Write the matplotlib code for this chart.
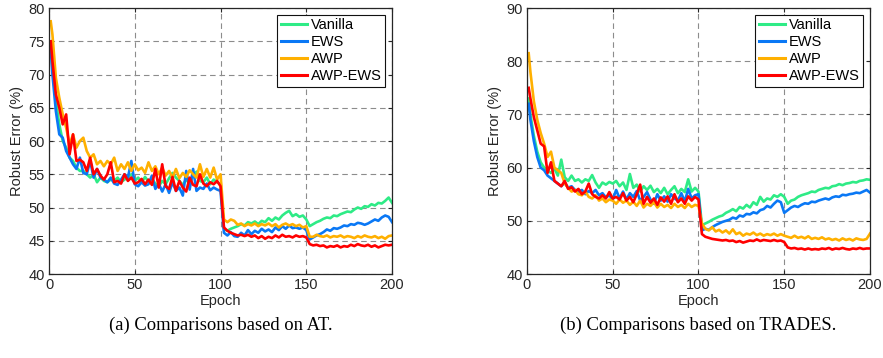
import numpy as np
import matplotlib
matplotlib.use("Agg")
import matplotlib.pyplot as plt

epochs = [1] + list(range(2, 201, 2))

at_vanilla = [75.0, 71, 66, 62.5, 60, 59, 57.5, 57, 56, 55.5, 55.5, 55, 54.5, 55, 53.8, 54.5, 54, 53.8, 54.2, 54, 54.5,
              53.8, 54.2, 54.5, 55, 54, 54.5, 53.8, 54.6, 53.9, 54.3, 53.6, 53.2, 54, 53.5, 54.4, 55.2, 54.5, 54, 53.4, 54.2,
              53.5, 54.8, 55.4, 54, 53.8, 54.5, 53.5, 54.2, 53.8, 53.5,
              46.8, 46.5, 46.8, 47, 47.2, 47.5, 47.3, 47.8, 47.6, 47.9, 47.5, 48, 47.8, 48.4, 48, 48.5, 48.2, 48.8, 49.2, 49.5,
              48.7, 49, 48.6, 48.8, 48.2,
              47.2, 47.5, 47.8, 48, 48.3, 48.5, 48.4, 48.8, 48.7, 49, 49.2, 49.4, 49.3, 49.7, 50, 49.8, 50.2, 50.1, 50.5, 50.3,
              50.7, 50.6, 51, 51.5, 50.7]
at_ews = [74, 70, 64.5, 61, 60.5, 58.5, 57.5, 56.5, 55.8, 57.5, 55.2, 55, 57, 54.5, 55.8, 54.5, 54.2, 53.8, 54.5, 53.6, 53.4,
          54.2, 55, 54.5, 57, 53.5, 53.2, 53.8, 53.3, 53.5, 54.8, 52.8, 53.6, 52.4, 53.5, 52.2, 53.8, 52.5, 53, 51.8, 55.5,
          52.7, 55.8, 52.5, 53, 52.8, 53.6, 52.6, 53, 52.7, 52.5,
          46.2, 45.8, 46.3, 45.7, 45.6, 46.2, 45.8, 46.6, 46, 46.5, 46.2, 46.8, 46.4, 46.7, 46.3, 47, 46.6, 47.2, 46.8, 47.3,
          46.9, 47, 46.8, 47, 46.6,
          45.2, 45.5, 45.8, 46, 46.3, 46.7, 46.5, 46.9, 46.8, 47, 47.3, 47.2, 47.5, 47.4, 47.7, 47.6, 47.4, 47.6, 47.9, 48.2,
          48, 48.5, 48.8, 48.6, 47.8]
at_awp = [78, 76, 69.5, 66.5, 64, 62, 59.5, 61, 59, 60, 60.5, 58.5, 57.5, 58, 56.5, 57, 56.2, 57, 56.5, 57.5, 55.5,
          56.5, 55.8, 56.8, 55.5, 56.5, 55.6, 56, 55.2, 56.8, 55.5, 56.2, 55, 56, 54.8, 55.5, 54.5, 55.8, 54.4, 55.2, 54.6,
          55.6, 55, 54.5, 56.5, 54.6, 55.8, 54.5, 56, 54.2, 55,
          48.2, 47.8, 48.2, 48, 47.4, 47.6, 47.2, 47.5, 47.3, 47.6, 47.2, 47.5, 47.3, 47.6, 47.2, 47.5, 47, 47.4, 47.6, 47.3,
          47.5, 47.2, 47.4, 47, 47.2,
          45.6, 45.6, 45.9, 45.7, 45.6, 45.8, 45.5, 45.7, 45.6, 45.8, 45.5, 45.7, 45.6, 45.4, 45.7, 45.5, 45.8, 45.6, 45.5, 45.7,
          45.4, 45.6, 45.3, 45.7, 45.8]
at_awp_ews = [75, 72, 67, 65, 62.5, 64, 58, 61, 57, 57.2, 56.8, 55.5, 57.5, 55, 55.8, 54.8, 54.2, 55, 56.8, 53.8, 54,
              53.6, 55, 54, 54.5, 53.6, 53.8, 54.3, 53.5, 54.2, 53.4, 55.8, 53, 56.5, 53.2, 52.8, 54.6, 52.5, 54, 53, 52.4,
              54.5, 53.4, 53.2, 55, 53.6, 53.2, 53.8, 53.5, 54, 53.2,
              47, 46.5, 46.2, 46, 45.8, 45.9, 45.7, 45.9, 45.6, 45.8, 45.4, 45.7, 45.3, 45.6, 45.4, 45.8, 45.5, 45.9, 45.6, 45.7,
              45.5, 45.8, 45.6, 45.7, 45.5,
              44.5, 44.3, 44.4, 44.2, 44.3, 44, 44.2, 44.1, 44.3, 44, 44.2, 44.1, 44.4, 44.2, 44.5, 44.3, 44.2, 44.4, 44.1, 44.3,
              44, 44.2, 44.4, 44.3, 44.4]

tr_vanilla = [73, 70, 66, 63, 61, 60, 59.5, 59, 59.8, 58.5, 61.5, 58.2, 57.5, 58.5, 57.5, 57.8, 57.2, 57.8, 57.5, 58.6, 57.2,
              56.2, 57.2, 56.8, 57.3, 57, 57.5, 56.5, 57.2, 55.8, 58.8, 56.2, 56.8, 55.5, 56.5, 55.8, 56.6, 55.4, 56, 55.2, 56.2,
              55, 55.8, 56.5, 55.2, 56, 55.4, 57.8, 55.5, 56.2, 55.5,
              49.2, 49.5, 49.8, 50.2, 50.5, 50.8, 51, 51.5, 51.8, 52.2, 51.8, 52.6, 52.3, 53, 52.5, 53.5, 53, 54.5, 53.6, 54.2,
              54, 54.8, 54.5, 55, 54.5,
              53.2, 53.8, 54, 54.5, 54.8, 55, 55.2, 55.5, 55.4, 55.8, 56, 56.2, 56.1, 56.5, 56.6, 56.9, 56.7, 57, 57.1, 57.3,
              57.2, 57.5, 57.6, 57.8, 57.7]
tr_ews = [72, 69, 65, 62, 60, 59.5, 58.5, 58, 57.5, 57, 56.5, 57.2, 56.2, 56.5, 55.8, 55.5, 55.8, 55, 55.6, 55.2, 55.8,
          54.8, 55.2, 54.4, 54.8, 54, 55.8, 54.2, 55.5, 54, 55.2, 54.5, 55.6, 53.8, 54.5, 55.4, 54, 53.2, 55, 53.8, 54.6,
          53.6, 55, 54.2, 53.8, 55.2, 53.6, 56, 54.2, 54.8, 55,
          48.2, 48.5, 48.3, 48.8, 49.2, 49.5, 49.8, 50, 50.2, 50.6, 50.4, 51, 50.8, 51.3, 51.2, 51.6, 51.4, 52, 52.2, 52.8,
          52.5, 53.2, 53.8, 53.5, 51.5,
          52, 52.5, 52.8, 52.6, 53, 53.3, 53.2, 53.6, 53.5, 53.8, 54, 54.2, 54, 54.4, 54.6, 54.5, 54.9, 54.8, 55, 55.1,
          55.3, 55.2, 55.5, 55.8, 55.3]
tr_awp = [81.5, 78, 72.5, 69, 66.5, 64.5, 62, 63, 60, 59.5, 59, 57, 56.2, 55.5, 55.8, 55, 54.8, 55.5, 54.5, 54.2, 54.8,
          53.8, 54.2, 53.5, 54, 53.8, 53.2, 54, 53.4, 53.8, 53, 53.6, 52.8, 53.8, 52.5, 53.2, 52.8, 53.5, 52.5, 53.2, 52.6,
          53, 52.4, 53.2, 52.6, 53, 52.4, 53.2, 52.6, 53, 52.8,
          49.5, 48.5, 48.2, 48.8, 48, 48.3, 47.8, 48.2, 47.6, 48.4, 47.5, 47.8, 47.2, 47.6, 47.4, 47.8, 47.3, 47.6, 47.2, 47.5,
          47.3, 47.6, 47.2, 47.5, 47.2,
          47, 46.8, 47.2, 46.8, 47, 46.7, 47.1, 46.6, 46.8, 46.6, 46.9, 46.5, 46.7, 46.4, 46.6, 46.3, 46.7, 46.4, 46.6, 46.3,
          46.7, 46.5, 46.4, 46.6, 47.6]
tr_awp_ews = [75, 73, 69.5, 67, 64.5, 64, 59, 61, 57.5, 57, 56.5, 57.5, 56, 56.3, 55.5, 56, 55, 55.5, 57, 55, 54.5,
              54.2, 54.8, 54.2, 55.4, 54.2, 54.5, 54, 55.2, 53.8, 54.5, 53.5, 55, 56.8, 53.2, 54.5, 53.4, 54.2, 53, 54.4, 53.6,
              54.6, 53.2, 55, 53.5, 54.2, 53.2, 54.6, 53.8, 54.5, 54,
              47.5, 47, 46.8, 46.6, 46.5, 46.4, 46.3, 46.4, 46.2, 46.3, 46, 46.2, 45.9, 46.1, 46.3, 46.2, 46.5, 46.2, 46.4, 46.3,
              46.2, 46.4, 46.2, 46.3, 46,
              45, 44.8, 44.9, 44.7, 44.8, 44.6, 44.8, 44.6, 44.7, 44.6, 44.8, 44.7, 44.9, 44.6, 44.8, 44.7, 44.9, 44.7, 44.6, 44.8,
              44.7, 44.9, 44.7, 44.8, 44.8]

labels = ["Vanilla", "EWS", "AWP", "AWP-EWS"]
colors = ["#2EEB86", "#0A78F5", "#FFB000", "#FF0000"]
x_ticks = [0, 50, 100, 150, 200]
at_yticks = [40, 45, 50, 55, 60, 65, 70, 75, 80]
tr_yticks = [40, 50, 60, 70, 80, 90]
captions = ["(a) Comparisons based on AT.", "(b) Comparisons based on TRADES."]

panels = [
    ([at_vanilla, at_ews, at_awp, at_awp_ews], at_yticks),
    ([tr_vanilla, tr_ews, tr_awp, tr_awp_ews], tr_yticks),
]

fig = plt.figure(figsize=(8.83, 3.58), dpi=100)
sans = ["Liberation Sans", "DejaVu Sans"]
serif = ["Liberation Serif", "DejaVu Serif"]
axes_pos = [[0.0555, 0.2346, 0.3885, 0.743], [0.5968, 0.2346, 0.3885, 0.743]]
tc = "#262626"
fs = 10.5

for (series, yt), pos, cap in zip(panels, axes_pos, captions):
    ax = fig.add_axes(pos)
    for s, lab, c in zip(series, labels, colors):
        assert len(s) == len(epochs)
        ax.plot(epochs, s, color=c, lw=1.9, label=lab)
    ax.set_xlim(0, 200)
    ax.set_ylim(yt[0], yt[-1])
    ax.set_xticks(x_ticks)
    ax.set_yticks(yt)
    ax.grid(True, color="#8c8c8c", linestyle=(0, (5, 3.5)), lw=0.8)
    ax.set_axisbelow(True)
    for sp in ax.spines.values():
        sp.set_color(tc)
        sp.set_linewidth(0.9)
    ax.tick_params(direction="in", length=3, width=0.8, colors=tc, labelsize=fs, pad=3,
                   top=True, right=True)
    for t in ax.get_xticklabels() + ax.get_yticklabels():
        t.set_fontfamily(sans)
    ax.set_xlabel("Epoch", fontsize=fs, family=sans, color=tc, labelpad=1)
    ax.set_ylabel("Robust Error (%)", fontsize=fs, family=sans, color=tc, labelpad=3)
    leg = ax.legend(loc="upper right", prop={"family": sans, "size": fs}, frameon=True,
                    fancybox=False, framealpha=1, edgecolor="#111111", handlelength=1.75,
                    handletextpad=0.3, labelspacing=0.2, borderpad=0.25, borderaxespad=0.45)
    leg.get_frame().set_linewidth(0.8)
    for ln in leg.get_lines():
        ln.set_linewidth(2.2)
    cx = pos[0] + pos[2] / 2
    fig.text(cx, 0.092, cap, ha="center", va="center", fontsize=13.4, family=serif, color="black")

fig.savefig("out.png", dpi=100)
